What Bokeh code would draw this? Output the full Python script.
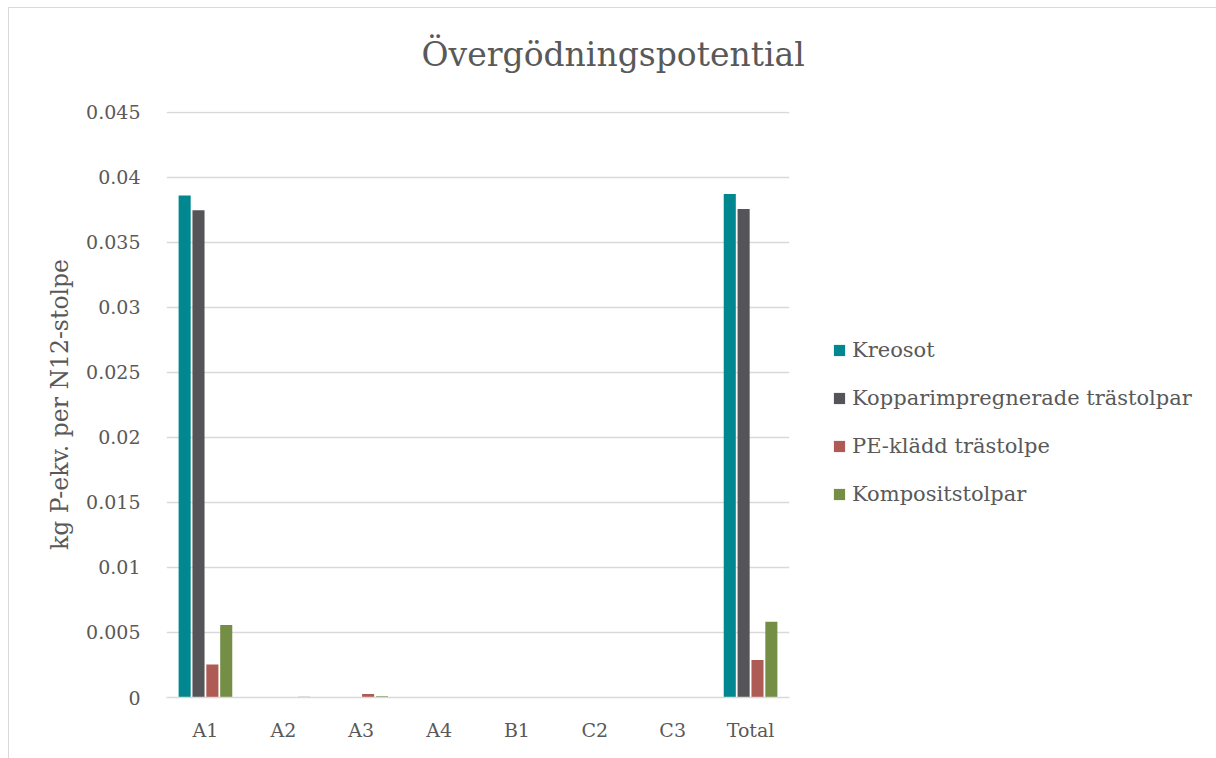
from bokeh.plotting import figure
from bokeh.models import ColumnDataSource, Legend, LegendItem, FixedTicker, Title, Range1d
from bokeh.layouts import row
from bokeh.transform import dodge
from bokeh.embed import file_html
from bokeh.resources import INLINE

categories = ["A1", "A2", "A3", "A4", "B1", "C2", "C3", "Total"]
kreosot = [0.0386, 0, 0, 0, 0, 0, 0, 0.0387]
koppar = [0.03745, 0, 0, 0, 0, 0, 0, 0.03755]
pe_kladd = [0.00253, 0, 0.00026, 0, 0, 0, 0, 0.00289]
komposit = [0.00557, 0.00005, 0.0001, 0, 0, 0, 0, 0.00583]
series_names = ["Kreosot", "Kopparimpregnerade trästolpar", "PE-klädd trästolpe", "Kompositstolpar"]
colors = ["#00878F", "#545459", "#AE5A55", "#748E46"]
y_ticks = [0, 0.005, 0.01, 0.015, 0.02, 0.025, 0.03, 0.035, 0.04, 0.045]

FONT = "DejaVu Serif"
TXT = "#595959"
BORDER = "1px solid #d9d9d9"

src = ColumnDataSource(dict(cat=categories, s0=kreosot, s1=koppar, s2=pe_kladd, s3=komposit))

p = figure(x_range=categories, y_range=(0, 0.04505), width=812, height=751,
           output_backend="svg", toolbar_location=None,
           min_border_left=157, min_border_right=32, min_border_top=103, min_border_bottom=62,
           title=None)
p.margin = (7, 0, 0, 8)
p.styles = {"border-left": BORDER, "border-top": BORDER}
p.outline_line_color = None

offsets = [-0.267, -0.089, 0.089, 0.267]
renderers = []
for i, key in enumerate(["s0", "s1", "s2", "s3"]):
    r = p.vbar(x=dodge("cat", offsets[i], range=p.x_range), top=key, width=0.155,
               source=src, fill_color=colors[i], line_color=None)
    renderers.append(r)

p.yaxis.ticker = FixedTicker(ticks=y_ticks)
p.yaxis.major_label_overrides = {t: f"{t:g}" for t in y_ticks}
p.yaxis.axis_line_color = None
p.yaxis.major_tick_line_color = None
p.yaxis.minor_tick_line_color = None
p.yaxis.major_label_standoff = 20
p.yaxis.major_label_text_font = FONT
p.yaxis.major_label_text_font_size = "19px"
p.yaxis.major_label_text_color = TXT
p.yaxis.axis_label = "kg P-ekv. per N12-stolpe"
p.yaxis.axis_label_text_font = FONT
p.yaxis.axis_label_text_font_size = "23.5px"
p.yaxis.axis_label_text_font_style = "normal"
p.yaxis.axis_label_text_color = TXT
p.yaxis.axis_label_standoff = 9

p.xaxis.axis_line_color = "#d9d9d9"
p.xaxis.axis_line_width = 1.5
p.xaxis.major_tick_line_color = None
p.xaxis.minor_tick_line_color = None
p.xaxis.major_label_standoff = 15
p.xaxis.major_label_text_font = FONT
p.xaxis.major_label_text_font_size = "19px"
p.xaxis.major_label_text_color = TXT

p.xgrid.grid_line_color = None
p.ygrid.grid_line_color = "#d9d9d9"
p.ygrid.grid_line_width = 1.5

# spacer panel between frame and title, then the title itself
spacer = Title(text=" ", text_font_size="1px", standoff=34)
p.add_layout(spacer, "above")
t = Title(text="Övergödningspotential", align="left", vertical_align="middle", text_font=FONT,
          text_font_size="33px", text_font_style="normal", text_color=TXT, offset=255, standoff=0)
p.add_layout(t, "above")

# legend panel (separate figure on the right, sharing the series colours)
p2 = figure(width=396, height=751, output_backend="svg", toolbar_location=None,
            x_range=Range1d(0, 1), y_range=Range1d(0, 1),
            min_border_left=0, min_border_right=0, min_border_top=0, min_border_bottom=0)
p2.margin = (7, 0, 0, 0)
p2.styles = {"border-top": BORDER}
p2.axis.visible = False
p2.grid.visible = False
p2.outline_line_color = None
lsrc = ColumnDataSource(dict(x=[0.5], top=[0]))
lrs = [p2.vbar(x="x", top="top", width=0.01, source=lsrc, fill_color=c, line_color=None) for c in colors]

legend = Legend(items=[LegendItem(label=series_names[i], renderers=[lrs[i]]) for i in range(4)],
                location=(12, 191), orientation="vertical")
legend.border_line_color = None
legend.background_fill_alpha = 0
legend.padding = 0
legend.margin = 0
legend.glyph_width = 14
legend.glyph_height = 14
legend.label_height = 24
legend.spacing = 24
legend.label_standoff = 6
legend.label_text_font = FONT
legend.label_text_font_size = "21px"
legend.label_text_color = TXT
p2.add_layout(legend, "center")

layout = row(p, p2, spacing=0)
open("out.html", "w").write(file_html(layout, INLINE))
